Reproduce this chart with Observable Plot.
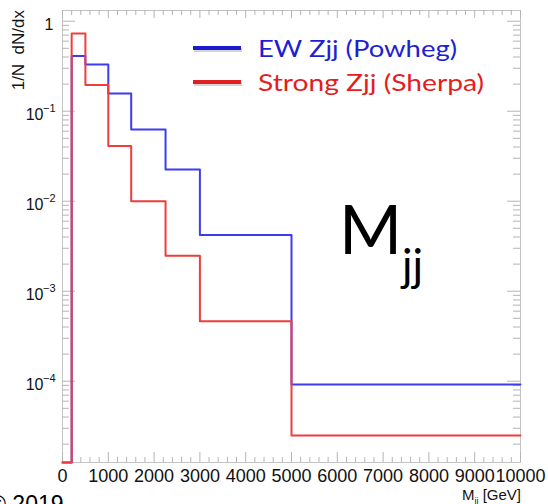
<!DOCTYPE html>
<html><head><meta charset="utf-8">
<script src="https://cdn.jsdelivr.net/npm/d3@7"></script>
<script src="https://cdn.jsdelivr.net/npm/@observablehq/plot@0.6"></script>
<style>body{margin:0;background:#fff;} #chart svg{overflow:visible}</style>
</head><body><div id="chart"></div>
<script>
// ---- data ----
const binEdges = [0, 200, 500, 1000, 1500, 2250, 3000, 5000, 10000];
const ewZjj = [0, 0.41, 0.33, 0.157, 0.0626, 0.0225, 0.00422, 0.000092];
const strongZjj = [0, 0.73, 0.195, 0.041, 0.0100, 0.00247, 0.000464, 0.000025];
const seriesNames = ["EW Zjj (Powheg)", "Strong Zjj (Sherpa)"];
const xTickValues = [0, 1000, 2000, 3000, 4000, 5000, 6000, 7000, 8000, 9000, 10000];
const yDecades = [1, 0.1, 0.01, 0.001, 0.0001];
const yExponents = ["", "−1", "−2", "−3", "−4"];
const xTitle = ["M", "jj", " [GeV]"];
const yTitle = "1/N  dN/dx";
const bigLabel = ["M", "jj"];
const footText = "© 2019";

// ---- styling ----
const W = 548, H = 504, mL = 62, mR = 28, mT = 10, mB = 42;
const frameW = W - mL - mR, frameH = H - mT - mB;
const blue = "#3c3cf2", red = "#f03c3c";
const frameColor = "#c4c4c4", tickColor = "#b4b4b4";

function toRows(values, series) {
  return binEdges.map((e, i) => ({x: e, y: values[Math.min(i, values.length - 1)], series}));
}
const ewRows = toRows(ewZjj, seriesNames[0]);
const strongRows = toRows(strongZjj, seriesNames[1]);

const xMinor = d3.range(200, 10000, 200).filter(d => d % 1000 !== 0);
const yAllTicks = d3.scaleLog().domain([1e-5, 1.3]).ticks();
const yMinor = yAllTicks.filter(d => !yDecades.some(m => Math.abs(m - d) / m < 1e-6) && d >= 1.25e-5);

function overlay(index, scales, values, dims) {
  const g = d3.create("svg:g").attr("text-anchor", "start");
  const L = dims.marginLeft, T = dims.marginTop;
  // y title (rotated)
  g.append("text")
    .attr("transform", `translate(24,${T}) rotate(-90)`)
    .attr("text-anchor", "end")
    .attr("font-family", "Liberation Sans, Arial, sans-serif")
    .attr("font-size", 17).attr("fill", "#111")
    .style("white-space", "pre")
    .text(yTitle);
  // x title
  const xt = g.append("text")
    .attr("x", dims.width - dims.marginRight + 1).attr("y", 500)
    .attr("text-anchor", "end")
    .attr("font-family", "Liberation Sans, Arial, sans-serif")
    .attr("font-size", 15).attr("fill", "#111")
    .style("white-space", "pre");
  xt.append("tspan").text(xTitle[0]);
  xt.append("tspan").attr("font-size", 9).attr("dy", 4).text(xTitle[1]);
  xt.append("tspan").attr("dy", -4).text(xTitle[2]);
  // legend
  const legend = [
    {name: seriesNames[0], line: "#1a1ad0", text: "#1e1ed2", y: 48, len: 199},
    {name: seriesNames[1], line: "#e02020", text: "#e21e1e", y: 82, len: 226}
  ];
  for (const e of legend) {
    g.append("line").attr("x1", L + 132).attr("x2", L + 180).attr("y1", e.y + 2).attr("y2", e.y + 2)
      .attr("stroke", "#888").attr("stroke-opacity", 0.35).attr("stroke-width", 4);
    g.append("line").attr("x1", L + 131).attr("x2", L + 179).attr("y1", e.y).attr("y2", e.y)
      .attr("stroke", e.line).attr("stroke-width", 4);
    g.append("text").attr("x", L + 196).attr("y", e.y + 8.5)
      .attr("text-anchor", "start")
      .attr("textLength", e.len).attr("lengthAdjust", "spacingAndGlyphs")
      .attr("font-family", "Lato, sans-serif").attr("font-size", 24).attr("fill", e.text)
      .text(e.name);
  }
  // big M_jj
  g.append("text").attr("x", L + 277).attr("y", 254).attr("text-anchor", "start")
    .attr("font-family", "Lato, sans-serif").attr("font-size", 68).attr("fill", "#000")
    .text(bigLabel[0]);
  g.append("text").attr("x", L + 340).attr("y", 281).attr("text-anchor", "start")
    .attr("font-family", "Lato, sans-serif").attr("font-size", 44).attr("fill", "#000")
    .text(bigLabel[1]);
  // footer (cut off by the image edge)
  g.append("text").attr("x", -11).attr("y", 512).attr("text-anchor", "start")
    .attr("font-family", "Liberation Sans, Arial, sans-serif").attr("font-size", 23).attr("fill", "#000")
    .style("white-space", "pre")
    .text(footText);
  return g.node();
}

const chart = Plot.plot({
  width: W, height: H,
  marginLeft: mL, marginRight: mR, marginTop: mT, marginBottom: mB,
  style: {fontFamily: "Liberation Sans, Arial, sans-serif", fontSize: "18px", color: "#111", background: "#fff"},
  x: {domain: [0, 10000], axis: null, label: null},
  y: {type: "log", domain: [1.25e-5, 1.315], clamp: true, axis: null, label: null},
  marks: [
    Plot.frame({stroke: frameColor}),
    // x ticks bottom/top
    Plot.ruleX(xTickValues, {stroke: tickColor, insetTop: frameH - 10}),
    Plot.ruleX(xTickValues, {stroke: tickColor, insetBottom: frameH - 8}),
    Plot.ruleX(xMinor, {stroke: tickColor, insetTop: frameH - 5}),
    Plot.ruleX(xMinor, {stroke: tickColor, insetBottom: frameH - 5}),
    // y ticks left/right
    Plot.ruleY(yDecades, {stroke: tickColor, insetRight: frameW - 13}),
    Plot.ruleY(yDecades, {stroke: tickColor, insetLeft: frameW - 13}),
    Plot.ruleY(yMinor, {stroke: tickColor, insetRight: frameW - 7}),
    Plot.ruleY(yMinor, {stroke: tickColor, insetLeft: frameW - 7}),
    // histograms
    Plot.line(ewRows, {x: "x", y: "y", curve: "step-after", stroke: blue, strokeWidth: 2}),
    Plot.line(strongRows, {x: "x", y: "y", curve: "step-after", stroke: red, strokeWidth: 2}),
    // x tick labels
    Plot.axisX({ticks: xTickValues, tickSize: 0, tickPadding: 7, tickFormat: d3.format("d"), fontSize: 18, fill: "#111", label: null}),
    // y tick labels
    Plot.text(yDecades.filter(d => d === 1), {y: d => d, frameAnchor: "left", text: () => "1", textAnchor: "end", dx: -9, dy: 4, fontSize: 16, fill: "#111"}),
    Plot.text(yDecades.filter(d => d !== 1), {y: d => d, frameAnchor: "left", text: () => "10", textAnchor: "end", dx: -19, dy: 4, fontSize: 16, fill: "#111"}),
    Plot.text(yDecades.filter(d => d !== 1), {y: d => d, frameAnchor: "left", text: d => yExponents[yDecades.indexOf(d)], textAnchor: "end", dx: -7, dy: -2.5, fontSize: 11, fill: "#111"}),
    overlay
  ]
});
document.getElementById("chart").append(chart);
</script>
</body></html>
